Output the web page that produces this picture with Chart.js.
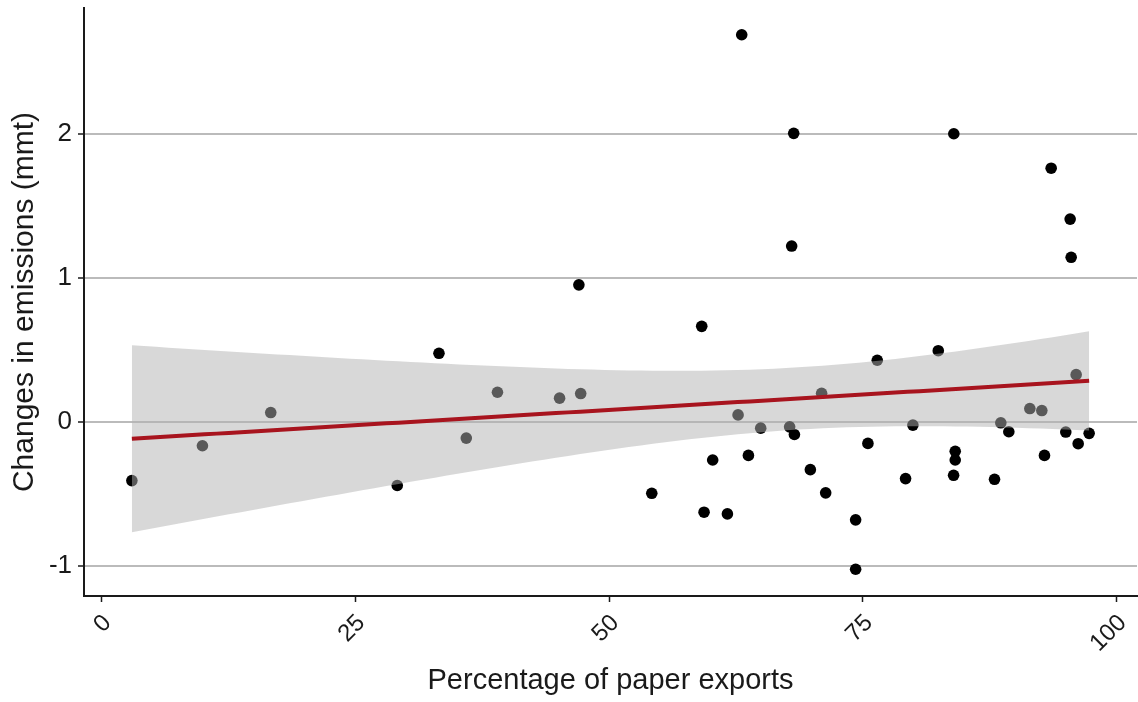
<!DOCTYPE html>
<html>
<head>
<meta charset="utf-8">
<title>Changes in emissions vs. percentage of paper exports</title>
<script src="https://cdn.jsdelivr.net/npm/chart.js@4.4.0/dist/chart.umd.min.js"></script>
<style>
  html, body { margin: 0; padding: 0; background: #ffffff; }
  canvas { display: block; }
</style>
</head>
<body>
<canvas id="chart" width="1138" height="702"></canvas>
<script>
// Percentage of each country's paper output that is exported
const exportShare = [
  2.99, 9.94, 16.67, 29.13, 33.24, 35.93, 39.00, 45.12, 47.02, 47.20,
  54.20, 59.12, 59.35, 60.20, 61.65, 62.70, 63.06, 63.72, 64.93, 67.78,
  67.98, 68.18, 68.25, 69.82, 70.93, 71.33, 74.28, 74.28, 75.49, 76.41,
  79.20, 79.92, 82.42, 83.93, 83.95, 84.09, 84.09, 87.96, 88.58, 89.37,
  91.44, 92.62, 92.88, 93.54, 94.98, 95.41, 95.51, 96.00, 96.20, 97.28
];
// Change in emissions, million metric tonnes
const emissionChange = [
  -0.406, -0.164, 0.066, -0.440, 0.477, -0.111, 0.207, 0.166, 0.952, 0.198,
  -0.494, 0.664, -0.625, -0.263, -0.637, 0.050, 2.687, -0.231, -0.042, -0.033,
  1.221, 2.003, -0.086, -0.330, 0.200, -0.491, -0.678, -1.021, -0.148, 0.429,
  -0.392, -0.021, 0.495, -0.369, 2.000, -0.203, -0.263, -0.397, -0.005, -0.067,
  0.094, 0.080, -0.231, 1.761, -0.069, 1.408, 1.143, 0.329, -0.150, -0.078
];
const xTicks = [0, 25, 50, 75, 100];
const yTicks = [-1, 0, 1, 2];

const FONT = '"Liberation Sans", Arial, Helvetica, sans-serif';
const INK = '#1a1a1a';

// Scatter points
const points = exportShare.map((x, i) => ({ x: x, y: emissionChange[i] }));

// Ordinary least squares fit with a 95% confidence band
const n = points.length;
const xbar = exportShare.reduce((s, v) => s + v, 0) / n;
const ybar = emissionChange.reduce((s, v) => s + v, 0) / n;
let sxx = 0, sxy = 0;
points.forEach(p => { sxx += (p.x - xbar) ** 2; sxy += (p.x - xbar) * (p.y - ybar); });
const slope = sxy / sxx;
const intercept = ybar - slope * xbar;
let rss = 0;
points.forEach(p => { rss += (p.y - intercept - slope * p.x) ** 2; });
const sigma = Math.sqrt(rss / (n - 2));
const tCrit = 2.0106; // t(0.975, df = 48)

const xLo = Math.min(...exportShare), xHi = Math.max(...exportShare);
const fitLine = [], bandUpper = [], bandLower = [];
const steps = 80;
for (let k = 0; k < steps; k++) {
  const x = xLo + (xHi - xLo) * k / (steps - 1);
  const yhat = intercept + slope * x;
  const se = sigma * Math.sqrt(1 / n + (x - xbar) ** 2 / sxx);
  fitLine.push({ x: x, y: yhat });
  bandUpper.push({ x: x, y: yhat + tCrit * se });
  bandLower.push({ x: x, y: yhat - tCrit * se });
}

// Axis limits padded by 5% of the data range on each side
const yLo = Math.min(...emissionChange), yHi = Math.max(...emissionChange);
const xPad = (xHi - xLo) * 0.05, yPad = (yHi - yLo) * 0.05;

new Chart(document.getElementById('chart'), {
  type: 'line',
  data: {
    datasets: [
      {
        label: 'fit',
        data: fitLine,
        borderColor: '#a8141e',
        borderWidth: 4,
        pointRadius: 0,
        fill: false,
        tension: 0,
        order: 0
      },
      {
        label: 'upper',
        data: bandUpper,
        borderWidth: 0,
        borderColor: 'rgba(0,0,0,0)',
        backgroundColor: 'rgba(178,178,178,0.5)',
        pointRadius: 0,
        fill: '+1',
        order: 1
      },
      {
        label: 'lower',
        data: bandLower,
        borderWidth: 0,
        borderColor: 'rgba(0,0,0,0)',
        pointRadius: 0,
        fill: false,
        order: 2
      },
      {
        label: 'countries',
        data: points,
        showLine: false,
        pointRadius: 5.8,
        pointBackgroundColor: '#000000',
        pointBorderWidth: 0,
        order: 3
      }
    ]
  },
  options: {
    responsive: false,
    animation: false,
    events: [],
    layout: { autoPadding: false, padding: { top: 8, right: 1, left: 0, bottom: 0 } },
    plugins: {
      legend: { display: false },
      tooltip: { enabled: false }
    },
    scales: {
      x: {
        type: 'linear',
        min: xLo - xPad,
        max: xHi + xPad,
        afterBuildTicks: s => { s.ticks = xTicks.map(v => ({ value: v })); },
        afterFit: s => { s.height = 106; s.paddingLeft = 0; s.paddingRight = 0; },
        grid: { drawOnChartArea: false, tickLength: 6, tickColor: INK, tickWidth: 1.5 },
        border: { color: INK, width: 2 },
        ticks: {
          minRotation: 45, maxRotation: 45, autoSkip: false,
          padding: 7, labelOffset: 6, color: INK,
          font: { family: FONT, size: 24 },
          callback: v => String(v)
        },
        title: {
          display: true,
          text: 'Percentage of paper exports',
          color: INK,
          font: { family: FONT, size: 29 },
          padding: { top: 0, bottom: 4 }
        }
      },
      y: {
        type: 'linear',
        min: yLo - yPad,
        max: yHi + yPad,
        afterBuildTicks: s => { s.ticks = yTicks.map(v => ({ value: v })); },
        afterFit: s => { s.width = 84; s.paddingTop = 0; s.paddingBottom = 0; },
        grid: { color: '#bbbbbb', lineWidth: 2, tickLength: 6, tickColor: INK, tickWidth: 1.5 },
        border: { color: INK, width: 2 },
        ticks: {
          padding: 6, color: INK,
          font: { family: FONT, size: 26 },
          callback: v => String(v)
        },
        title: {
          display: true,
          text: 'Changes in emissions (mmt)',
          color: INK,
          font: { family: FONT, size: 30 },
          padding: { top: 7, bottom: 0 }
        }
      }
    }
  }
});
</script>
</body>
</html>
